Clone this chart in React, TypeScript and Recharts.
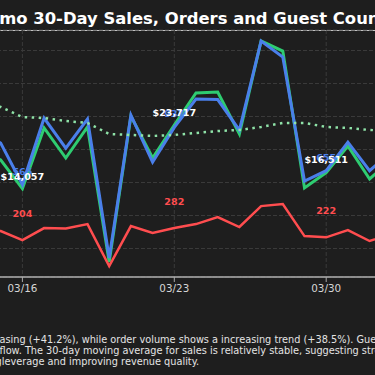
import React from 'react';
import { LineChart, Line, XAxis, YAxis, CartesianGrid, LabelList } from 'recharts';

const dates = ['03/14', '03/15', '03/16', '03/17', '03/18', '03/19', '03/20', '03/21', '03/22', '03/23', '03/24', '03/25', '03/26', '03/27', '03/28', '03/29', '03/30', '03/31', '04/01', '04/02'];
const sales = [20000, 18400, 14057, 23260, 18710, 23410, 2960, 25080, 18710, 23717, 28560, 28710, 22350, 36440, 34920, 14170, 16511, 20530, 15530, 18400];
const orders = [900, 835, 565, 997, 802, 991, 87, 1017, 711, 937, 1121, 1118, 919, 1498, 1394, 588, 655, 841, 655, 776];
const guests = [280, 263, 204, 282, 280, 308, 35, 295, 250, 282, 308, 354, 289, 425, 438, 230, 222, 269, 198, 243];
const salesMA = [27500, 26440, 24920, 24770, 24320, 24020, 22350, 22200, 22050, 22200, 22500, 22800, 22960, 23410, 24020, 24020, 23410, 23260, 22960, 22800];
const tickDates = ['03/16', '03/23', '03/30'];
const salesTicks = [5000, 10000, 15000, 20000, 25000, 30000, 35000];

const titleText = 'Demo 30-Day Sales, Orders and Guest Count Trends';
const descLines = [
  ['Sales are incre', 'asing (+41.2%), while order volume shows a increasing trend (+38.5%). Guest count is rising'],
  ['healthy cash ', 'flow. The 30-day moving average for sales is relatively stable, suggesting strong momentum'],
  ['operating ', 'leverage and improving revenue quality.'],
];

const data = dates.map((d, i) => ({
  date: d,
  sales: sales[i],
  orders: orders[i],
  guests: guests[i],
  salesMA: salesMA[i],
}));

const FONT = '"DejaVu Sans", sans-serif';

const makeLabel = (color: string, dy: number, fmt: (v: number) => string) => (props: any) => {
  const { index, value } = props;
  const x = props.x ?? props.viewBox?.x;
  const y = props.y ?? props.viewBox?.y;
  if (index == null || (index - 2) % 7 !== 0 || x == null || y == null) return null;
  return (
    <text x={x} y={y - dy} textAnchor="middle" fill={color} fontSize={9.6} fontWeight="bold" fontFamily={FONT}>
      {fmt(value)}
    </text>
  );
};

const GuestLabel = makeLabel('#ff4d4f', 23.5, (v) => String(v));
const OrderLabel = makeLabel('#4a7fea', 10, (v) => String(v));
const SalesLabel = makeLabel('#ffffff', 9.2, (v) => '$' + v.toLocaleString('en-US'));

export default function App() {
  return (
    <div
      style={{
        position: 'fixed',
        left: 0,
        top: 0,
        width: 375,
        height: 375,
        overflow: 'hidden',
        background: '#1e1e1e',
        fontFamily: FONT,
      }}
    >
      <div
        style={{
          position: 'absolute',
          left: -25.5,
          top: 8.6,
          fontSize: 16.4,
          fontWeight: 'bold',
          color: '#ffffff',
          whiteSpace: 'nowrap',
        }}
      >
        {titleText}
      </div>
      <div style={{ position: 'absolute', left: 0, top: 29.5, width: 375, height: 1.5, background: '#c4c4c4' }} />
      <div style={{ position: 'absolute', left: -21.4, top: 0 }}>
        <LineChart width={412.3} height={310} data={data} margin={{ top: 30, right: 0, bottom: 0, left: 0 }}>
          <CartesianGrid yAxisId="left" stroke="#3a3a3a" strokeDasharray="4 2" />
          <XAxis
            dataKey="date"
            ticks={tickDates}
            interval={0}
            height={33}
            tickSize={5}
            tickMargin={3}
            tick={{ fill: '#d6d6d6', fontSize: 10.4, fontFamily: FONT }}
            tickLine={{ stroke: '#aaaaaa' }}
            axisLine={{ stroke: '#b0b0b0', strokeWidth: 1.6 }}
          />
          <YAxis yAxisId="left" hide domain={[682, 38106]} ticks={salesTicks} allowDataOverflow />
          <YAxis yAxisId="right" hide domain={[-36, 1570]} allowDataOverflow />
          <Line yAxisId="left" type="linear" dataKey="sales" stroke="#2ecc71" strokeWidth={3} dot={false} isAnimationActive={false} />
          <Line yAxisId="right" type="linear" dataKey="orders" stroke="#4a7fea" strokeWidth={3} dot={false} isAnimationActive={false} />
          <Line yAxisId="right" type="linear" dataKey="guests" stroke="#ff4d4f" strokeWidth={2.5} dot={false} isAnimationActive={false} />
          <Line yAxisId="left" type="linear" dataKey="salesMA" stroke="#8fe3a8" strokeWidth={2.5} strokeDasharray="2.5 4.5" dot={false} isAnimationActive={false} />
          <Line yAxisId="right" dataKey="guests" stroke="none" dot={false} isAnimationActive={false}>
            <LabelList dataKey="guests" content={GuestLabel} />
          </Line>
          <Line yAxisId="right" dataKey="orders" stroke="none" dot={false} isAnimationActive={false}>
            <LabelList dataKey="orders" content={OrderLabel} />
          </Line>
          <Line yAxisId="left" dataKey="sales" stroke="none" dot={false} isAnimationActive={false}>
            <LabelList dataKey="sales" content={SalesLabel} />
          </Line>
        </LineChart>
      </div>
      {descLines.map((ln, i) => (
        <div
          key={i}
          style={{
            position: 'absolute',
            left: i === 2 ? 1.8 : -0.5,
            top: 334.2 + [0, 10.7, 21.7][i],
            fontSize: 9.75,
            color: '#e4e4e4',
            whiteSpace: 'nowrap',
          }}
        >
          <span style={{ position: 'relative' }}>
            <span style={{ position: 'absolute', right: '100%', whiteSpace: 'nowrap' }}>{ln[0]}</span>
            {ln[1]}
          </span>
        </div>
      ))}
    </div>
  );
}
